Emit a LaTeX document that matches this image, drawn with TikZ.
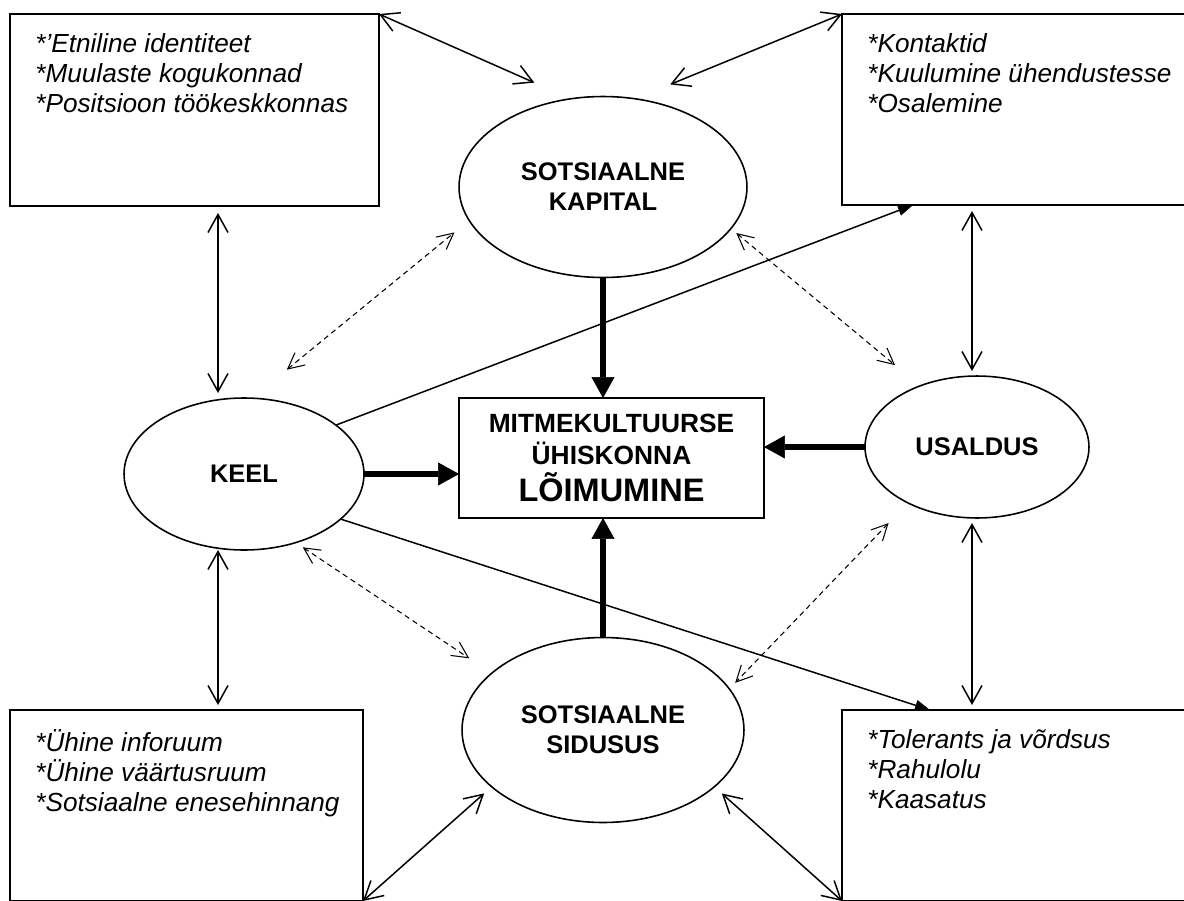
\documentclass[tikz,border=0pt]{standalone}
\usepackage{fontspec}
\setmainfont{Liberation Sans}
\usetikzlibrary{arrows.meta,positioning,calc,shapes.geometric}

\begin{document}
\begin{tikzpicture}[x=0.02cm, y=-0.02cm,
    bx/.style={draw, line width=1.1pt, inner sep=0pt, outer sep=0pt},
    el/.style={draw, ellipse, line width=0.9pt, inner sep=0pt, outer sep=0pt,
               align=center, font=\fontsize{14.5}{17}\selectfont\bfseries},
    lst/.style={inner sep=0pt, align=left, font=\fontsize{14.9}{17}\selectfont\itshape},
    dbl/.style={{Straight Barb[length=0.36cm,width=0.4cm]}-{Straight Barb[length=0.36cm,width=0.4cm]},
                line width=0.85pt},
    dsh/.style={{Straight Barb[length=0.32cm,width=0.32cm]}-{Straight Barb[length=0.32cm,width=0.32cm]},
                line width=0.6pt, dash pattern=on 3pt off 2.3pt},
    thk/.style={-{Triangle[length=0.42cm,width=0.46cm,line width=0.4pt]}, line width=3.7pt},
    ln/.style={-{Triangle[length=0.3cm,width=0.22cm,line width=0.4pt]}, line width=0.85pt}
  ]
    \path[use as bounding box, fill=white] (0,0) rectangle (1184,900);
    \clip (0,0) rectangle (1184,900);

    \node[bx, minimum width=7.38cm, minimum height=3.84cm] (tlbox) at (194.5,110) {};
    \node[bx, minimum width=7.16cm, minimum height=3.82cm] (trbox) at (1021,109.5) {};
    \node[bx, minimum width=7.06cm, minimum height=3.82cm] (blbox) at (186.5,805.5) {};
    \node[bx, minimum width=7.16cm, minimum height=3.82cm] (brbox) at (1021,805.5) {};
    \node[lst, below right=0.39cm and 0.5cm of tlbox.north west] (tltxt)
      {*’Etniline identiteet\\*Muulaste kogukonnad\\*Positsioon töökeskkonnas};
    \node[lst, below right=0.39cm and 0.5cm of trbox.north west] (trtxt)
      {*Kontaktid\\*Kuulumine ühendustesse\\*Osalemine};
    \node[lst, below right=0.39cm and 0.5cm of blbox.north west] (bltxt)
      {*Ühine inforuum\\*Ühine väärtusruum\\*Sotsiaalne enesehinnang};
    \node[lst, below right=0.39cm and 0.5cm of brbox.north west] (brtxt)
      {*Tolerants ja võrdsus\\*Rahulolu\\*Kaasatus};

    \node[bx, minimum width=6.1cm, minimum height=2.4cm, align=center,
          font=\fontsize{15}{18.5}\selectfont\bfseries] (ctr) at (611.5,458)
      {MITMEKULTUURSE\\ÜHISKONNA\\[2.5pt]{\fontsize{18.5}{20}\selectfont LÕIMUMINE}};

    \node[el, minimum width=5.76cm, minimum height=3.62cm] (kap) at (603,187) {SOTSIAALNE\\KAPITAL};
    \node[el, minimum width=4.8cm, minimum height=3.04cm] (keel) at (244,474) {KEEL};
    \node[el, minimum width=4.48cm, minimum height=2.84cm] (usa) at (977,447) {USALDUS};
    \node[el, minimum width=5.64cm, minimum height=3.7cm] (sid) at (603,730) {SOTSIAALNE\\SIDUSUS};

    \draw[thk] (kap.south) -- (kap.south |- ctr.north);
    \draw[thk] (sid.north) -- (sid.north |- ctr.south);
    \draw[thk] (keel.east) -- (keel.east -| ctr.west);
    \draw[thk] (usa.west) -- (usa.west -| ctr.east);

    \coordinate (kx) at ([xshift=-0.52cm]keel.north);
    \coordinate (ux) at ([xshift=-0.1cm]usa.north);
    \draw[dbl, shorten <=0.14cm, shorten >=0.1cm] (tlbox.south -| kx) -- (kx);
    \draw[dbl, shorten >=0.1cm] (kx |- keel.south) -- (kx |- blbox.north);
    \draw[dbl, shorten <=0.12cm, shorten >=0.1cm] (trbox.south -| ux) -- (ux);
    \draw[dbl, shorten <=0.1cm, shorten >=0.1cm] (ux |- usa.south) -- (ux |- brbox.north);

    \draw[dbl, shorten >=0.8cm] (tlbox.north east) -- (kap.110);
    \draw[dbl, shorten >=0.76cm] (trbox.north west) -- (kap.70);
    \draw[dbl, shorten <=0.2cm] (sid.207) -- (blbox.south east);
    \draw[dbl, shorten <=0.2cm] (sid.333) -- (brbox.south west);

    \draw[dsh, shorten <=0.9cm, shorten >=0.38cm] (keel.84) -- (kap.194);
    \draw[dsh, shorten <=0.14cm, shorten >=0.65cm] (kap.342) -- (usa.133);
    \draw[dsh, shorten <=0.17cm, shorten >=0.54cm] (keel.307) -- (sid.153);
    \draw[dsh, shorten <=0.56cm, shorten >=0.17cm] (usa.219) -- (sid.18);

    \draw[ln] (keel.28) -- ([xshift=1.42cm]trbox.south west);
    \draw[ln] (keel.335) -- ([xshift=1.76cm]brbox.north west);
\end{tikzpicture}
\end{document}
